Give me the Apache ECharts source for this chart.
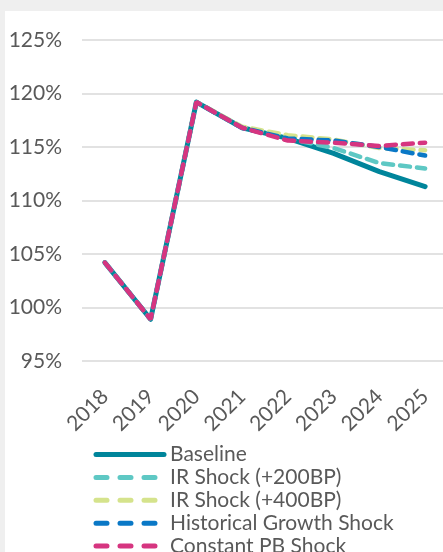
<!DOCTYPE html>
<html>
<head>
<meta charset="utf-8">
<script src="https://cdn.jsdelivr.net/npm/echarts@6/dist/echarts.min.js"></script>
<style>
  html, body { margin: 0; padding: 0; background: #efefef; }
  #panel { position: absolute; left: 5px; top: 11px; width: 438px; height: 541px; background: #ffffff; }
  #chart { position: absolute; left: 0; top: 0; width: 443px; height: 552px; }
</style>
</head>
<body>
<div id="panel"></div>
<div id="chart"></div>
<script>
// Projected ratio by year under each scenario (%)
const years = ['2018', '2019', '2020', '2021', '2022', '2023', '2024', '2025'];
const baseline       = [104.2, 98.9, 119.2, 116.8, 115.8, 114.4, 112.7, 111.3];
const irShock200     = [104.2, 98.9, 119.2, 116.8, 115.8, 114.9, 113.5, 113.0];
const irShock400     = [104.2, 98.9, 119.2, 116.9, 116.1, 115.7, 114.9, 114.7];
const histGrowth     = [104.2, 98.9, 119.2, 116.8, 115.8, 115.6, 115.0, 114.2];
const constantPB     = [104.2, 98.9, 119.2, 116.8, 115.6, 115.4, 115.1, 115.4];
const yTicks = { min: 95, max: 125, step: 5 };

const font = 'Lato, "Open Sans", "DejaVu Sans", sans-serif';
const textColor = '#595959';
const legendDash = { width: 5, type: [11, 13], cap: 'round' };

function dashed(name, data, color) {
  return {
    name, type: 'line', data, symbol: 'none', z: 3,
    lineStyle: { color, width: 4.5, type: [10, 7], cap: 'round' },
    itemStyle: { color }
  };
}

const chart = echarts.init(document.getElementById('chart'), null, { renderer: 'canvas' });
chart.setOption({
  animation: false,
  backgroundColor: 'transparent',
  textStyle: { fontFamily: font },
  grid: { left: 82, right: -5, top: 40, bottom: 191, containLabel: false, outerBoundsMode: 'none' },
  xAxis: {
    type: 'category', data: years, boundaryGap: true,
    axisLine: { show: false }, axisTick: { show: false },
    axisLabel: { rotate: 45, color: textColor, fontSize: 21, fontFamily: font, margin: 32 }
  },
  yAxis: {
    type: 'value', min: yTicks.min, max: yTicks.max, interval: yTicks.step,
    axisLine: { show: false }, axisTick: { show: false },
    axisLabel: { color: textColor, fontSize: 21, fontFamily: font, margin: 20, formatter: v => v + '%' },
    splitLine: { lineStyle: { color: '#d9d9d9', width: 1.5 } }
  },
  legend: {
    orient: 'vertical', left: 93.5, top: 444, height: 200, padding: 0,
    itemWidth: 68, itemHeight: 14, itemGap: 1.9,
    itemStyle: { opacity: 0 },
    textStyle: { color: textColor, fontSize: 21, fontFamily: font, lineHeight: 18, padding: [0, 0, 0, 1] },
    data: [
      { name: 'Baseline', lineStyle: { width: 5, type: 'solid', cap: 'round' } },
      { name: 'IR Shock (+200BP)', lineStyle: legendDash },
      { name: 'IR Shock (+400BP)', lineStyle: legendDash },
      { name: 'Historical Growth Shock', lineStyle: legendDash },
      { name: 'Constant PB Shock', lineStyle: legendDash }
    ]
  },
  series: [
    {
      name: 'Baseline', type: 'line', data: baseline, symbol: 'none', z: 2,
      lineStyle: { color: '#00859b', width: 5, cap: 'round', join: 'round' },
      itemStyle: { color: '#00859b' }
    },
    dashed('IR Shock (+200BP)', irShock200, '#5ec8c4'),
    dashed('IR Shock (+400BP)', irShock400, '#d5e38c'),
    dashed('Historical Growth Shock', histGrowth, '#0a78c6'),
    dashed('Constant PB Shock', constantPB, '#d63580')
  ]
});
</script>
</body>
</html>
